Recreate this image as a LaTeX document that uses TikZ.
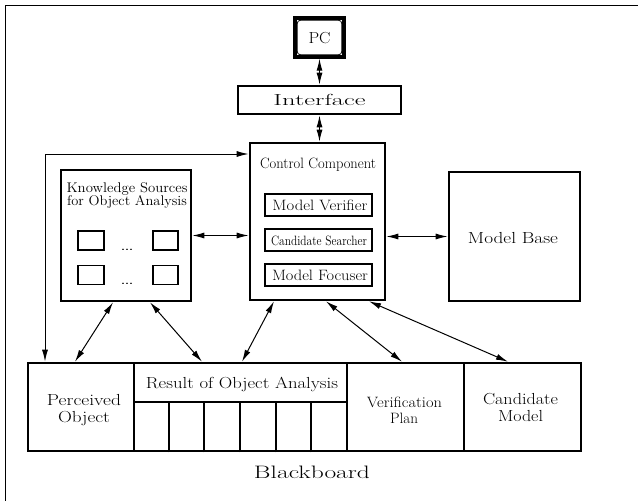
\documentclass[tikz,border=0pt]{standalone}
\usepackage{fontspec}
\usepackage{graphicx}
\usetikzlibrary{arrows.meta,calc}
\newcommand\sx[2]{\resizebox{#1pt}{\height}{#2}}
\newcommand\fs[1]{\fontsize{#1}{#1}\selectfont}
\tikzset{
  thickbox/.style={draw, line width=2.6pt, inner sep=0pt},
  thinbox/.style={draw, line width=1.3pt, inner sep=0pt},
  conn/.style={line width=1pt, {Latex[length=12pt,width=6pt]}-{Latex[length=12pt,width=6pt]}},
  lbl/.style={inner sep=0pt, anchor=base},
}
\begin{document}
\begin{tikzpicture}[x=1pt,y=-1pt]
\useasboundingbox (0,0) rectangle (638,501);
% frame
\draw[line width=0.9pt] (5,501) -- (5,5) -- (638,5);

% PC
\node[thickbox, line width=3.4pt, minimum width=49pt, minimum height=39pt] (pc) at (319.5,37.5) {};
\draw[line width=0.8pt, rounded corners=3pt] ($(pc.south west)+(4,-4)$) rectangle ($(pc.north east)+(-4,4)$);
\node[lbl] (pct) at (319.5,43) {\fs{16}\sx{22}{PC}};

% Interface
\node[thickbox, minimum width=163pt, minimum height=28pt] (iface) at (319.5,100) {};
\node[lbl] (ifacet) at (319.5,105.5) {\fs{16}\sx{92}{Interface}};

% Control component
\node[thickbox, minimum width=135pt, minimum height=157pt] (ctrl) at (317.5,221.5) {};
\node[lbl] (ctrlt) at (318,168.5) {\fs{15}\sx{116}{Control Component}};
\node[thinbox, minimum width=107pt, minimum height=22pt] (mv) at (318.5,205) {};
\node[lbl] (mvt) at (320,210) {\fs{15}\sx{95}{Model Verifier}};
\node[thinbox, minimum width=107pt, minimum height=22pt] (cs) at (318.5,240) {};
\node[lbl] (cst) at (319,245) {\fs{13.5}\sx{96}{Candidate Searcher}};
\node[thinbox, minimum width=107pt, minimum height=22pt] (mf) at (318.5,275) {};
\node[lbl] (mft) at (320,280) {\fs{15}\sx{96}{Model Focuser}};

% Knowledge sources
\node[thickbox, minimum width=130pt, minimum height=131pt] (ks) at (126,235.5) {};
\node[lbl] (kst1) at (127,192) {\fs{14}\sx{121}{Knowledge Sources}};
\node[lbl] (kst2) at (127,205) {\fs{14}\sx{120}{for Object Analysis}};
\node[thinbox, line width=1.1pt, minimum width=26pt, minimum height=19pt] (s1) at (91,240.5) {};
\node[thinbox, line width=1.1pt, minimum width=25pt, minimum height=19pt] (s2) at (165.5,240.5) {};
\node[thinbox, line width=1.1pt, minimum width=26pt, minimum height=19pt] (s3) at (91,275) {};
\node[thinbox, line width=1.1pt, minimum width=25pt, minimum height=19pt] (s4) at (165.5,275) {};
\node[lbl] (d1) at (127,250) {\fs{16}\sx{14}{\ldots}};
\node[lbl] (d2) at (127,284) {\fs{16}\sx{14}{\ldots}};

% Model base
\node[thickbox, minimum width=131pt, minimum height=129pt] (mb) at (514.5,236.5) {};
\node[lbl] (mbt) at (513,243) {\fs{16}\sx{90}{Model Base}};

% Blackboard
\node[thickbox, minimum width=106pt, minimum height=88pt] (perc) at (81,407) {};
\node[lbl] (perct1) at (84,405.5) {\fs{16}\sx{74}{Perceived}};
\node[lbl] (perct2) at (84,422.5) {\fs{16}\sx{52}{Object}};
\node[thickbox, minimum width=213pt, minimum height=88pt] (res) at (240.5,407) {};
\node[thickbox, minimum width=213pt, minimum height=39pt] (resh) at (240.5,382.5) {};
\node[lbl] (rest) at (242,388.5) {\fs{16}\sx{192}{Result of Object Analysis}};
\foreach \dx in {36,71,107,143,178}
  \draw[line width=2pt] ([xshift=\dx pt]res.south west) -- ([xshift=\dx pt]resh.south west);
\node[thickbox, minimum width=117pt, minimum height=88pt] (verif) at (405.5,407) {};
\node[lbl] (verift1) at (404.5,407.5) {\fs{15}\sx{75}{Verification}};
\node[lbl] (verift2) at (404,423.5) {\fs{15}\sx{28}{Plan}};
\node[thickbox, minimum width=117pt, minimum height=88pt] (cand) at (522.5,407) {};
\node[lbl] (candt1) at (520.5,404.5) {\fs{16}\sx{75}{Candidate}};
\node[lbl] (candt2) at (520.5,421.5) {\fs{16}\sx{45}{Model}};
\node[lbl] (bb) at (312,478) {\fs{18}\sx{116}{Blackboard}};

% connectors
\draw[conn] (pc) -- (iface);
\draw[conn] (iface.south) -- (iface.south |- ctrl.north);
\draw[conn] (ks.east) -- (ctrl.west |- ks.east);
\draw[conn] (ctrl.east |- mb.west) -- (mb.west);
\coordinate (fb) at (45,154);
\draw[conn] (ctrl.west |- fb) -- (fb) -- (fb |- perc.north);
\draw[conn] ([xshift=-13pt]ks.south) -- ([xshift=-6pt]perc.north);
\draw[conn] ([xshift=24pt]ks.south) -- ([xshift=-38.5pt]resh.north);
\draw[conn] ([xshift=-43.5pt]ctrl.south) -- ([xshift=1.5pt]resh.north);
\draw[conn] ([xshift=8.5pt]ctrl.south) -- ([xshift=-3.5pt]verif.north);
\draw[conn] ([xshift=51.5pt]ctrl.south) -- ([xshift=-14.5pt]cand.north);
\end{tikzpicture}
\end{document}
